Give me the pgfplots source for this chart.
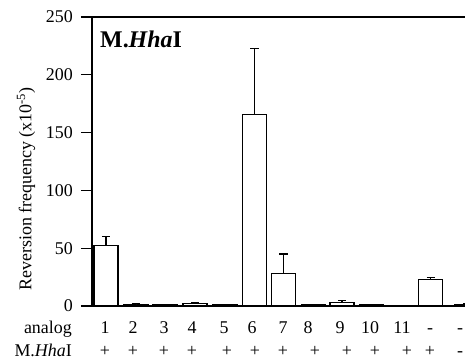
\documentclass[border=0pt]{standalone}
\usepackage{pgfplots}
\pgfplotsset{compat=1.18}
\usepackage{fontspec}
\setmainfont{Liberation Serif}
\newcommand\lbl{\fontsize{18}{21}\selectfont}
\begin{document}
\begin{tikzpicture}
\useasboundingbox (0,0) rectangle (465bp,360bp);
\begin{axis}[
  at={(92bp,54bp)}, anchor=south west,
  x=1bp, y=1.156bp,
  xmin=92, xmax=465, ymin=0, ymax=250,
  axis x line*=bottom, axis y line*=left,
  axis line style={line width=1.2pt},
  clip mode=individual,
  xtick=\empty,
  ytick={0,50,100,150,200,250},
  tick align=outside,
  major tick length=11bp,
  every tick/.style={line width=1.2pt, black},
  /pgf/number format/assume math mode=true,
  yticklabel={\lbl\pgfmathprintnumber{\tick}},
  yticklabel style={font=\lbl, inner sep=0pt, xshift=-8bp},
]
\draw[line width=1.2pt] (rel axis cs:0,1) -- (rel axis cs:1,1);
\addplot[ybar, bar width=24, bar shift=0pt, fill=white, draw=black, line width=1.1pt,
  error bars/.cd, y dir=plus, y explicit,
  error bar style={line width=1.1pt}, error mark options={rotate=90, mark size=4bp, line width=1.1pt}]
coordinates {
 (106,52) +- (0,8)
 (136,1.5) +- (0,0.8)
 (165,1) +- (0,0.3)
 (195,2.5) +- (0,0.2)
 (225,1) +- (0,0.3)
 (254.5,166) +- (0,57)
 (283.5,28) +- (0,17)
 (313.5,1) +- (0,0.3)
 (342,3.2) +- (0,1.4)
 (371.5,1) +- (0,0.3)
 (430.5,23) +- (0,1.3)
 (467,1.5) +- (0,0.5)
};
\node[anchor=base west, inner sep=0pt, font=\fontsize{24}{27}\selectfont\bfseries] at (axis cs:100,250) [yshift=-31bp] {M.\textit{Hha}I};
% bottom rows
\begin{scope}[every node/.style={anchor=base, font=\lbl, inner sep=0pt}]
\node[anchor=base east] at (axis cs:72,0) [yshift=-27bp] {analog};
\node at (axis cs:105,0) [yshift=-27bp] {1};
\node at (axis cs:133,0) [yshift=-27bp] {2};
\node at (axis cs:164,0) [yshift=-27bp] {3};
\node at (axis cs:192,0) [yshift=-27bp] {4};
\node at (axis cs:224,0) [yshift=-27bp] {5};
\node at (axis cs:252,0) [yshift=-27bp] {6};
\node at (axis cs:283,0) [yshift=-27bp] {7};
\node at (axis cs:308,0) [yshift=-27bp] {8};
\node at (axis cs:340,0) [yshift=-27bp] {9};
\node at (axis cs:370,0) [yshift=-27bp] {10};
\node at (axis cs:402,0) [yshift=-27bp] {11};
\node at (axis cs:430,0) [yshift=-27bp] {-};
\node at (axis cs:460,0) [yshift=-27bp] {-};
\node[anchor=base east] at (axis cs:72,0) [yshift=-50bp] {M.\textit{Hha}I};
\node at (axis cs:105,0) [yshift=-50bp] {+};
\node at (axis cs:133,0) [yshift=-50bp] {+};
\node at (axis cs:164,0) [yshift=-50bp] {+};
\node at (axis cs:192,0) [yshift=-50bp] {+};
\node at (axis cs:227,0) [yshift=-50bp] {+};
\node at (axis cs:255,0) [yshift=-50bp] {+};
\node at (axis cs:283,0) [yshift=-50bp] {+};
\node at (axis cs:315,0) [yshift=-50bp] {+};
\node at (axis cs:347,0) [yshift=-50bp] {+};
\node at (axis cs:375,0) [yshift=-50bp] {+};
\node at (axis cs:407,0) [yshift=-50bp] {+};
\node at (axis cs:430,0) [yshift=-50bp] {+};
\node at (axis cs:460,0) [yshift=-50bp] {-};
\end{scope}
\end{axis}
\node[rotate=90, font=\lbl, inner sep=0pt] at (26bp,171bp) {Reversion frequency (x10\textsuperscript{-5})};
\end{tikzpicture}
\end{document}
